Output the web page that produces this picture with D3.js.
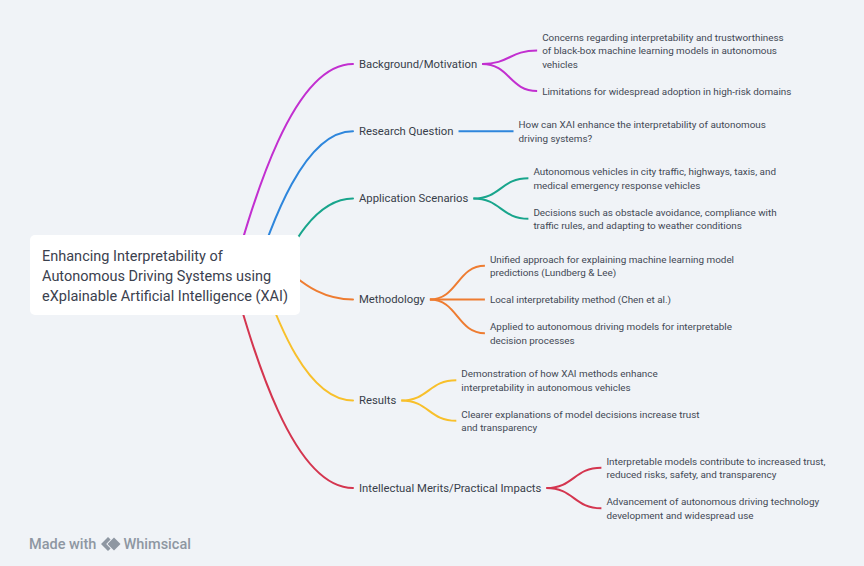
<!DOCTYPE html>
<html>
<head>
<meta charset="utf-8">
<script src="https://cdn.jsdelivr.net/npm/d3@7"></script>
<style>
  html, body { margin: 0; padding: 0; background: #f0f3f7; }
  svg { display: block; }
  text { font-family: Roboto, "Noto Sans", sans-serif; }
</style>
</head>
<body>
<svg id="chart" width="864" height="566"></svg>
<script>
// ---------- data ----------
const rootLines = [
  "Enhancing Interpretability of",
  "Autonomous Driving Systems using",
  "eXplainable Artificial Intelligence (XAI)"
];
const branchNames = [
  "Background/Motivation",
  "Research Question",
  "Application Scenarios",
  "Methodology",
  "Results",
  "Intellectual Merits/Practical Impacts"
];
const branchColors = ["#c22fd0", "#2e86dc", "#18a58c", "#ee7c31", "#f8c02b", "#d4354f"];
const backgroundItems = [
  ["Concerns regarding interpretability and trustworthiness", "of black-box machine learning models in autonomous", "vehicles"],
  ["Limitations for widespread adoption in high-risk domains"]
];
const researchItems = [
  ["How can XAI enhance the interpretability of autonomous", "driving systems?"]
];
const applicationItems = [
  ["Autonomous vehicles in city traffic, highways, taxis, and", "medical emergency response vehicles"],
  ["Decisions such as obstacle avoidance, compliance with", "traffic rules, and adapting to weather conditions"]
];
const methodologyItems = [
  ["Unified approach for explaining machine learning model", "predictions (Lundberg & Lee)"],
  ["Local interpretability method (Chen et al.)"],
  ["Applied to autonomous driving models for interpretable", "decision processes"]
];
const resultsItems = [
  ["Demonstration of how XAI methods enhance", "interpretability in autonomous vehicles"],
  ["Clearer explanations of model decisions increase trust", "and transparency"]
];
const impactItems = [
  ["Interpretable models contribute to increased trust,", "reduced risks, safety, and transparency"],
  ["Advancement of autonomous driving technology", "development and widespread use"]
];
const branchItems = [backgroundItems, researchItems, applicationItems, methodologyItems, resultsItems, impactItems];
const watermarkText = ["Made with", "Whimsical"];

// ---------- layout constants ----------
const W = 864, H = 566;
const LINE = 13.5, ITEM_GAP = 13.5, BRANCH_GAP = 20;
const rootBox = { x: 30, y: 235, w: 270, h: 80 };
const rootCY = rootBox.y + rootBox.h / 2 + 1;
const branchX = 353, labelPad = 6;
const childSpan = 55;

const svg = d3.select("#chart");

// vertical layout in "units" (pixels before centring)
let cursor = 0;
const layout = branchItems.map((items, bi) => {
  if (bi > 0) cursor += BRANCH_GAP;
  const start = cursor;
  const kids = items.map((lines, ki) => {
    if (ki > 0) cursor += ITEM_GAP;
    const top = cursor;
    cursor += lines.length * LINE;
    return { lines, top, center: (top + cursor) / 2 };
  });
  return { name: branchNames[bi], color: branchColors[bi], kids, center: (start + cursor) / 2 };
});
const total = cursor;
const y = d3.scaleLinear().domain([0, total]).range([rootCY - total / 2, rootCY + total / 2]);

// ---------- root -> branch links ----------
function rootLink(ty) {
  const dy = ty - rootCY;
  const sx = 302 - 0.33 * Math.abs(dy), sy = rootCY;
  const p = d3.path();
  p.moveTo(sx, sy);
  p.bezierCurveTo(sx + 0.18 * (branchX - sx), sy + 0.36 * dy,
                  sx + 0.5 * (branchX - sx), ty,
                  branchX, ty);
  return p.toString();
}
const gLinks = svg.append("g").attr("fill", "none").attr("stroke-width", 2).attr("stroke-linecap", "round");
layout.forEach(b => {
  gLinks.append("path").attr("d", rootLink(y(b.center))).attr("stroke", b.color);
});

// ---------- root box ----------
svg.append("rect")
  .attr("x", rootBox.x).attr("y", rootBox.y)
  .attr("width", rootBox.w).attr("height", rootBox.h)
  .attr("rx", 5).attr("fill", "#ffffff");
svg.append("g").selectAll("text").data(rootLines).join("text")
  .attr("x", 42)
  .attr("y", (d, i) => rootCY + (i - 1) * 20)
  .attr("dominant-baseline", "central")
  .attr("font-size", 14.5)
  .attr("fill", "#3b414e")
  .text(d => d);

// ---------- branches ----------
const link = d3.linkHorizontal().x(d => d[0]).y(d => d[1]);
layout.forEach(b => {
  const by = y(b.center);
  const label = svg.append("text")
    .attr("x", branchX + labelPad).attr("y", by)
    .attr("dominant-baseline", "central")
    .attr("font-size", 11.3)
    .attr("fill", "#383e4a")
    .text(b.name);
  const lw = label.node().getComputedTextLength();
  const sx = branchX + labelPad + lw + 5;
  const ex = sx + childSpan;
  b.kids.forEach(k => {
    svg.append("path")
      .attr("d", link({ source: [sx, by], target: [ex, y(k.center)] }))
      .attr("fill", "none").attr("stroke", b.color).attr("stroke-width", 2);
    svg.append("g").selectAll("text").data(k.lines).join("text")
      .attr("x", ex + 5)
      .attr("y", (d, i) => y(k.top + (i + 0.5) * LINE))
      .attr("dominant-baseline", "central")
      .attr("font-size", 9.9)
      .attr("fill", "#424854")
      .text(d => d);
  });
});

// ---------- watermark ----------
const wm = svg.append("g").attr("fill", "#8e97a2");
wm.append("text").attr("x", 29).attr("y", 544).attr("dominant-baseline", "central")
  .attr("font-size", 14.5).attr("font-weight", 500).text(watermarkText[0]);
wm.append("path").attr("d", "M108,537 L101,544 L108,551 L110.6,548.4 L106.2,544 L110.6,539.6 Z");
wm.append("path").attr("d", "M114,537.5 L120.5,544 L114,550.5 L107.5,544 Z");
wm.append("text").attr("x", 123.5).attr("y", 544).attr("dominant-baseline", "central")
  .attr("font-size", 14.5).attr("font-weight", 500).text(watermarkText[1]);
</script>
</body>
</html>
